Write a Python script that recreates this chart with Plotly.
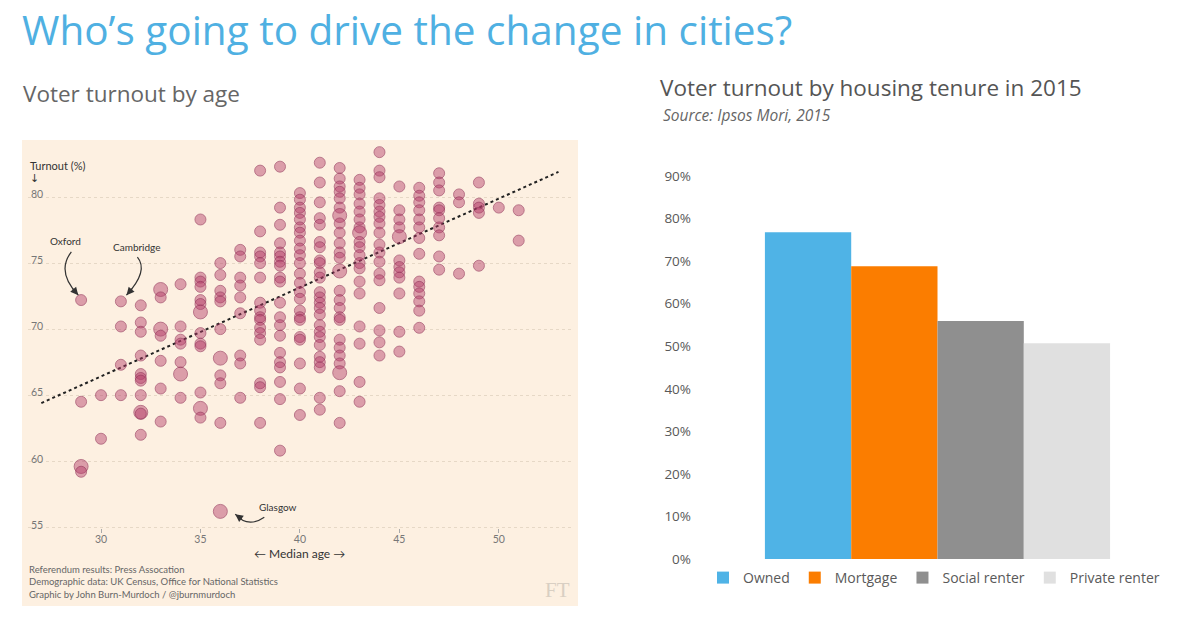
import plotly.graph_objects as go

# ---- left panel: turnout vs median age (one list of turnouts per age column)
median_ages = [29, 30, 31, 32, 33, 34, 35, 36, 37, 38, 39, 40,
               41, 42, 43, 44, 45, 46, 47, 48, 49, 50, 51]
turnout_by_age = [
    [72.2, 64.5, 59.6, 59.2],
    [65.0, 61.7],
    [72.1, 70.2, 67.3, 65.0],
    [71.8, 70.5, 69.8, 68.0, 66.6, 66.3, 66.1, 65.0, 63.7, 63.6, 62.0],
    [73.0, 72.4, 70.0, 69.5, 67.6, 65.5, 63.0],
    [73.4, 70.2, 69.2, 68.9, 67.5, 66.6, 64.8],
    [78.3, 73.9, 73.6, 73.2, 72.2, 71.9, 71.3, 69.7, 68.9, 68.7, 65.2, 64.0, 63.3],
    [75.0, 74.1, 72.9, 72.4, 72.1, 70.0, 67.8, 66.5, 65.9, 62.9, 56.2],
    [76.0, 75.5, 73.9, 73.3, 72.4, 71.2, 68.0, 67.4, 64.8],
    [82.0, 77.4, 75.8, 75.5, 75.0, 73.9, 72.0, 71.4, 70.9, 70.7, 70.1, 69.7,
     69.2, 65.9, 65.6, 62.9],
    [82.3, 79.2, 77.9, 76.5, 75.8, 75.5, 75.1, 74.8, 73.9, 73.6, 72.0, 70.9,
     70.3, 69.5, 68.2, 67.5, 67.1, 66.0, 64.7, 60.8],
    [80.3, 79.8, 79.2, 78.8, 78.3, 77.7, 77.3, 76.7, 76.1, 75.6, 75.0, 74.2,
     73.5, 72.8, 72.3, 71.4, 70.9, 70.7, 69.4, 69.2, 67.4, 65.5, 63.5],
    [82.6, 81.1, 79.6, 78.4, 77.9, 76.6, 76.2, 75.2, 75.0, 74.3, 73.9, 72.8,
     72.4, 72.0, 71.6, 71.1, 70.3, 69.8, 69.4, 68.8, 67.9, 67.5, 67.1, 64.8, 63.9],
    [82.2, 81.4, 80.8, 80.4, 79.9, 79.2, 78.6, 78.0, 77.3, 76.5, 75.8, 75.4,
     74.4, 72.9, 72.2, 71.6, 70.9, 70.7, 69.2, 68.6, 68.0, 67.4, 66.7, 65.3, 62.9],
    [81.3, 80.7, 80.2, 79.5, 78.9, 78.3, 77.7, 77.3, 76.6, 76.2, 75.6, 75.0,
     74.6, 73.6, 72.7, 70.2, 68.9, 66.0, 64.5],
    [83.4, 82.0, 81.5, 79.9, 79.4, 78.9, 78.5, 78.0, 77.3, 76.4, 75.8, 75.1,
     74.2, 73.7, 71.6, 69.9, 69.0, 68.0],
    [80.8, 79.0, 78.3, 77.7, 77.0, 75.2, 74.7, 74.3, 73.9, 72.7, 69.8, 68.3],
    [80.7, 80.1, 79.6, 79.0, 78.3, 77.7, 76.9, 75.7, 73.6, 73.2, 72.7, 72.1, 71.4, 70.1],
    [81.8, 81.1, 80.5, 79.2, 79.0, 78.4, 77.7, 77.1, 75.5, 74.5],
    [80.2, 79.6, 74.2],
    [81.1, 79.5, 79.2, 78.8, 74.8],
    [79.2],
    [79.0, 76.7],
]
# bigger (more populous) places
big_places = [(32, 63.7), (33, 73.0), (33, 70.0), (34, 66.6), (35, 71.3),
              (35, 64.0), (36, 67.8), (36, 56.2), (42, 78.6), (42, 74.4),
              (42, 66.7), (43, 77.3), (45, 77.0), (29, 59.6)]
trend_ages = [27.0, 53.0]
trend_turnout = [64.4, 81.9]

# ---- right panel: turnout by housing tenure
tenure = ["Owned", "Mortgage", "Social renter", "Private renter"]
tenure_turnout = [76.8, 68.8, 55.9, 50.7]
tenure_colors = ["#4fb3e6", "#fb7d00", "#8f8f8f", "#e0e0e0"]
pct_ticks = [0, 10, 20, 30, 40, 50, 60, 70, 80, 90]

W, H = 1200, 628


def px(x):
    return x / W


def py(y):
    return 1 - y / H


xs, ys, sizes = [], [], []
for age, vals in zip(median_ages, turnout_by_age):
    for v in vals:
        xs.append(age)
        ys.append(v)
        sizes.append(14 if (age, v) in big_places else 11)

fig = go.Figure()

fig.add_trace(go.Scatter(
    x=trend_ages, y=trend_turnout, mode="lines",
    line=dict(color="#222222", width=2, dash="dot"),
    xaxis="x", yaxis="y", showlegend=False, hoverinfo="skip"
))
fig.add_trace(go.Scatter(
    x=xs, y=ys, mode="markers",
    marker=dict(size=sizes, color="rgba(180,60,105,0.66)",
                line=dict(color="rgba(140,40,80,0.8)", width=1)),
    xaxis="x", yaxis="y", showlegend=False
))

for name, val, col in zip(tenure, tenure_turnout, tenure_colors):
    fig.add_trace(go.Bar(
        x=["2015"], y=[val], name=name, marker=dict(color=col, line=dict(width=0)),
        xaxis="x2", yaxis="y2"
    ))

# cream background for the FT graphic
shapes = [dict(type="rect", xref="paper", yref="paper",
               x0=px(22), x1=px(578), y0=py(606), y1=py(140),
               fillcolor="#fdf0e1", line=dict(width=0), layer="below")]

# curved pointer lines (data coords)
curves = [
    "M 28.51,75.85 Q 27.73,74.33 28.86,72.57",   # Oxford
    "M 31.83,75.45 Q 32.41,74.41 31.28,72.57",   # Cambridge
    "M 38.21,55.76 Q 37.38,54.9 36.75,55.99",   # Glasgow
]
for p in curves:
    shapes.append(dict(type="path", path=p, xref="x", yref="y",
                       line=dict(color="#333333", width=1.2)))

small = dict(family="Lato, sans-serif", size=10, color="#333333")
annotations = [
    dict(text="Who’s going to drive the change in cities?", x=px(20), y=1,
         xref="paper", yref="paper", xanchor="left", yanchor="top", showarrow=False,
         font=dict(family="Open Sans, sans-serif", size=40.5, color="#4fb0e2")),
    dict(text="Voter turnout by age", x=px(21), y=py(93),
         xref="paper", yref="paper", xanchor="left", yanchor="middle", showarrow=False,
         font=dict(family="Open Sans, sans-serif", size=22.5, color="#666666")),
    dict(text="Voter turnout by housing tenure in 2015", x=px(658), y=py(88),
         xref="paper", yref="paper", xanchor="left", yanchor="middle", showarrow=False,
         font=dict(family="Open Sans, sans-serif", size=22.5, color="#555555")),
    dict(text="<i>Source: Ipsos Mori, 2015</i>", x=px(661), y=py(115),
         xref="paper", yref="paper", xanchor="left", yanchor="middle", showarrow=False,
         font=dict(family="Open Sans, sans-serif", size=15.5, color="#666666")),
    dict(text="Turnout (%)", x=px(28), y=py(165), xref="paper", yref="paper",
         xanchor="left", yanchor="middle", showarrow=False,
         font=dict(family="Lato, sans-serif", size=11, color="#333333")),
    dict(text="↓", x=px(28), y=py(178), xref="paper", yref="paper",
         xanchor="left", yanchor="middle", showarrow=False,
         font=dict(family="DejaVu Sans, sans-serif", size=11, color="#333333")),
    dict(text="Oxford", x=28.2, y=76.7, xref="x", yref="y", showarrow=False, font=small),
    dict(text="Cambridge", x=31.8, y=76.2, xref="x", yref="y", showarrow=False, font=small),
    dict(text="Glasgow", x=38.9, y=56.5, xref="x", yref="y", showarrow=False, font=small),
    dict(text="← Median age →", x=40, y=py(553), xref="x", yref="paper",
         yanchor="middle", showarrow=False,
         font=dict(family="Lato, sans-serif", size=12, color="#333333")),
    dict(text="Referendum results: Press Assocation<br>"
              "Demographic data: UK Census, Office for National Statistics<br>"
              "Graphic by John Burn-Murdoch / @jburnmurdoch",
         x=px(27), y=py(562), xref="paper", yref="paper", xanchor="left", yanchor="top",
         align="left", showarrow=False,
         font=dict(family="Lato, sans-serif", size=9.5, color="#666666")),
    dict(text="FT", x=px(572), y=py(590), xref="paper", yref="paper",
         xanchor="right", yanchor="middle", showarrow=False,
         font=dict(family="Liberation Serif, serif", size=21, color="#d9cfc3")),
]
# arrowheads at the end of the curves
for hx, hy, dx, dy in [(28.86, 72.57, -7, -8), (31.28, 72.57, 7, -8), (36.75, 55.99, 8, 6)]:
    annotations.append(dict(x=hx, y=hy, ax=dx, ay=dy, xref="x", yref="y", text="",
                            showarrow=True, arrowhead=2, arrowsize=1.3, arrowwidth=1.2,
                            arrowcolor="#333333"))

fig.update_layout(
    width=W, height=H, margin=dict(l=0, r=0, t=0, b=0, autoexpand=False),
    paper_bgcolor="white", plot_bgcolor="rgba(0,0,0,0)",
    font=dict(family="Lato, sans-serif"),
    shapes=shapes, annotations=annotations,
    barmode="group", bargap=0.297, bargroupgap=0,
    xaxis=dict(domain=[px(28), px(573)], range=[26.33, 53.73],
               anchor="free", position=py(528.3),
               tickvals=[30, 35, 40, 45, 50], ticks="outside", ticklen=4,
               ticklabelstandoff=-3,
               tickcolor="#aaaaaa", showgrid=False, zeroline=False, showline=False,
               tickfont=dict(size=10.5, color="#777777")),
    yaxis=dict(domain=[py(545), py(145)], range=[53.655, 83.94], anchor="x",
               tickvals=[55, 60, 65, 70, 75, 80], ticks="",
               ticklabelposition="inside top", ticklabelshift=5, showgrid=True,
               gridcolor="#e6d8c6", griddash="dot", gridwidth=1,
               zeroline=False, showline=False,
               tickfont=dict(size=10.5, color="#777777")),
    xaxis2=dict(domain=[px(692), px(1183)], anchor="y2", showticklabels=False,
                ticks="", showgrid=False, zeroline=False, showline=False),
    yaxis2=dict(domain=[py(559), py(176)], range=[0, 90], anchor="x2",
                tickvals=pct_ticks, ticktext=[f"{v}%" for v in pct_ticks],
                showgrid=False, zeroline=False, showline=False, ticks="",
                tickfont=dict(family="Open Sans, sans-serif", size=13.5, color="#595959")),
    legend=dict(orientation="h", x=px(934), y=py(578), xanchor="center",
                yanchor="middle", font=dict(family="Open Sans, sans-serif", size=14,
                                            color="#595959"),
                itemwidth=30, bgcolor="rgba(0,0,0,0)"),
)

fig.write_html("out.html", config={"displayModeBar": False},
               post_script="document.body.style.margin='0';")
